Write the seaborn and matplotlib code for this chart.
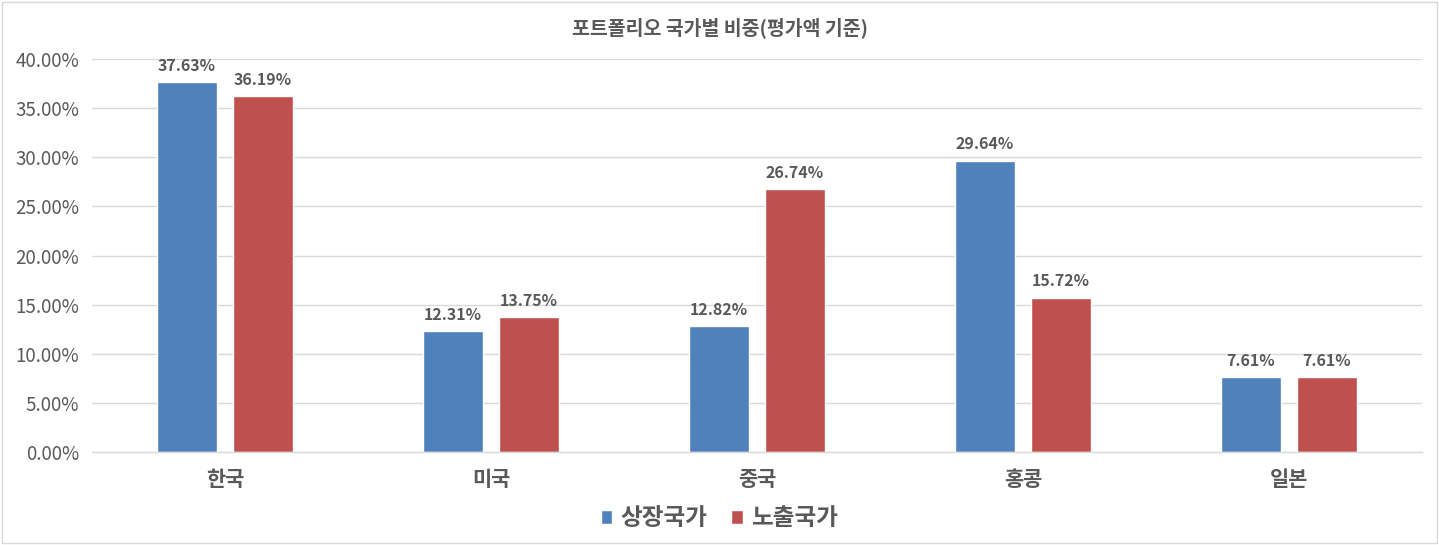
import matplotlib
matplotlib.use("Agg")
import matplotlib.pyplot as plt
from matplotlib.patches import Rectangle
from matplotlib.ticker import FuncFormatter, MultipleLocator
import pandas as pd
import seaborn as sns

# ─── data ─────────────────────────────────────────────────────────────────────
countries = ["한국", "미국", "중국", "홍콩", "일본"]
series    = ["상장국가", "노출국가"]
listed    = [37.63, 12.31, 12.82, 29.64, 7.61]
exposure  = [36.19, 13.75, 26.74, 15.72, 7.61]
title     = "포트폴리오 국가별 비중(평가액 기준)"

COLORS = ["#4F81BD", "#C0504D"]
TEXT   = "#595959"

df = pd.DataFrame({
    "country": countries * 2,
    "series":  [series[0]] * len(countries) + [series[1]] * len(countries),
    "value":   listed + exposure,
})

sns.set_theme(style="white")
plt.rcParams["font.family"] = ["Noto Sans CJK KR", "DejaVu Sans"]

fig = plt.figure(figsize=(14.39, 5.45), dpi=100)
ax = fig.add_axes([0.0639, 0.1706, 0.9241, 0.7211])

sns.barplot(data=df, x="country", y="value", hue="series", order=countries,
            hue_order=series, palette=COLORS, width=0.571, gap=0.21,
            saturation=1, ax=ax)

ax.set_ylim(0, 40)
ax.set_xlim(-0.5, len(countries) - 0.5)
ax.yaxis.set_major_locator(MultipleLocator(5))
ax.yaxis.set_major_formatter(FuncFormatter(lambda v, _: f"{v:.2f}%"))
ax.grid(axis="y", color="#D9D9D9", linewidth=1)
ax.set_axisbelow(True)
for side in ["left", "right", "top"]:
    ax.spines[side].set_visible(False)
ax.spines["bottom"].set_color("#D9D9D9")
ax.spines["bottom"].set_linewidth(1)
ax.tick_params(axis="y", length=0, pad=9, labelsize=13.5, labelcolor=TEXT)
ax.tick_params(axis="x", length=0, pad=12, labelsize=15, labelcolor=TEXT)
for lbl in ax.get_xticklabels():
    lbl.set_fontweight("bold")
ax.set_xlabel("")
ax.set_ylabel("")

for cont in ax.containers:
    ax.bar_label(cont, labels=[f"{b.get_height():.2f}%" for b in cont],
                 padding=6, fontsize=11.5, fontweight="bold", color=TEXT)

ax.legend(loc="center", bbox_to_anchor=(0.5, 0.049), bbox_transform=fig.transFigure,
          ncol=2, frameon=False, handlelength=0.5, handleheight=0.5,
          handletextpad=0.35, columnspacing=1.0,
          prop={"size": 17, "weight": "bold"}, labelcolor=TEXT)

fig.text(0.5, 0.949, title, ha="center", va="center", fontsize=14,
         fontweight="bold", color=TEXT)

fig.patches.append(Rectangle((0.0015, 0.003), 0.997, 0.994, transform=fig.transFigure,
                             fill=False, edgecolor="#D9D9D9", linewidth=1))

fig.savefig("out.png", dpi=100)
plt.close(fig)
